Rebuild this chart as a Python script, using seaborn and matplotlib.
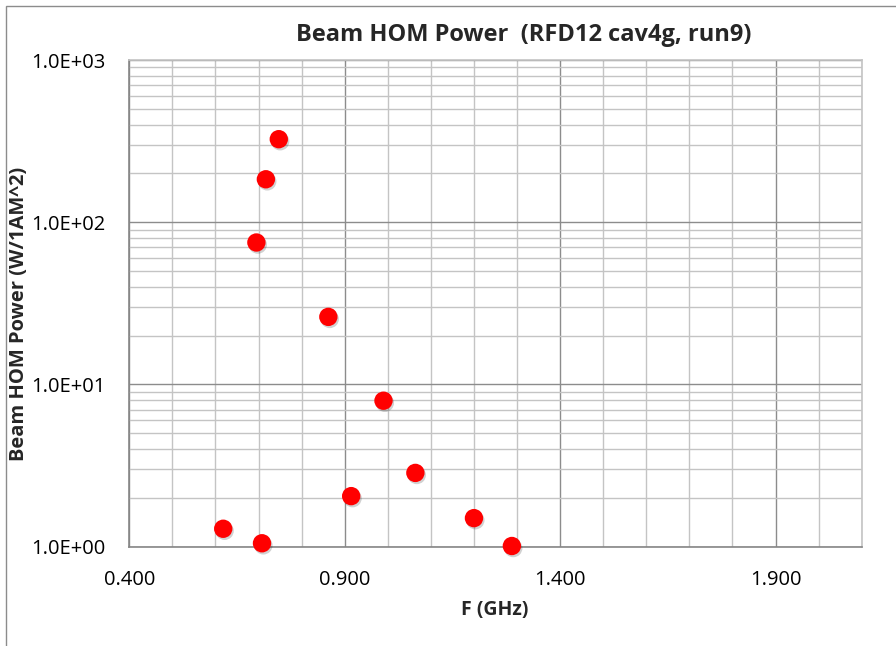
import matplotlib
matplotlib.use("Agg")
import matplotlib.pyplot as plt
import matplotlib.patheffects as pe
from matplotlib.ticker import LogLocator, MultipleLocator, FixedLocator, NullFormatter
import seaborn as sns
import pandas as pd

# Beam HOM power per mode frequency
freq_ghz = [0.618, 0.708, 0.695, 0.717, 0.747, 0.862, 0.915, 0.990, 1.064, 1.200, 1.288]
power_w = [1.29, 1.05, 75.0, 184.0, 325.0, 26.1, 2.05, 7.94, 2.85, 1.50, 1.01]

x_major_ticks = [0.4, 0.9, 1.4, 1.9]
x_tick_labels = ["0.400", "0.900", "1.400", "1.900"]
y_major_ticks = [1.0, 10.0, 100.0, 1000.0]
y_tick_labels = ["1.0E+00", "1.0E+01", "1.0E+02", "1.0E+03"]

title = "Beam HOM Power  (RFD12 cav4g, run9)"
xlabel = "F (GHz)"
ylabel = "Beam HOM Power (W/1AM^2)"

df = pd.DataFrame({"F": freq_ghz, "P": power_w})

sns.set_style("white")
plt.rcParams["font.family"] = ["Open Sans", "DejaVu Sans"]

fig = plt.figure(figsize=(8.96, 6.46), dpi=100)
ax = fig.add_axes([129.3 / 896, 1 - 546.7 / 646, (861.7 - 129.3) / 896, (546.7 - 60) / 646])

ax.set_yscale("log")
ax.set_xlim(0.4, 2.1)
ax.set_ylim(1.0, 1000.0)

# gridlines: light minor lines every 0.1 GHz and 2..9 per decade, darker majors
ax.xaxis.set_major_locator(FixedLocator(x_major_ticks))
ax.xaxis.set_minor_locator(MultipleLocator(0.1))
ax.yaxis.set_major_locator(FixedLocator(y_major_ticks))
ax.yaxis.set_minor_locator(LogLocator(base=10, subs=range(2, 10)))
ax.yaxis.set_minor_formatter(NullFormatter())
ax.set_xticks(x_major_ticks, x_tick_labels)
ax.set_yticks(y_major_ticks, y_tick_labels)

ax.grid(which="minor", color="#c4c4c4", linewidth=1.0)
ax.grid(which="major", color="#8c8c8c", linewidth=1.0)
ax.set_axisbelow(True)
ax.tick_params(which="both", length=0)
ax.tick_params(axis="x", pad=16.5, labelsize=14.5, colors="black")
ax.tick_params(axis="y", pad=17, labelsize=14.5, colors="black")

for side in ["top", "right"]:
    ax.spines[side].set_color("#c4c4c4")
for side in ["left", "bottom"]:
    ax.spines[side].set_color("#868686")
for sp in ax.spines.values():
    sp.set_linewidth(1.2)

sns.scatterplot(data=df, x="F", y="P", ax=ax, color="#ff0000", s=175,
                edgecolor="none", linewidth=0, zorder=5, clip_on=False)
for coll in ax.collections:
    coll.set_path_effects([pe.SimplePatchShadow(offset=(1, -1.5), shadow_rgbFace="#000000", alpha=0.18),
                           pe.Normal()])

ax.set_xlabel("")
ax.set_ylabel("")
fig.text(495 / 896, 1 - 610 / 646, xlabel, ha="center", va="center",
         fontsize=14, fontweight="bold")
fig.text(19 / 896, 1 - 314 / 646, ylabel, ha="center", va="center",
         rotation=90, fontsize=14.5, fontweight="bold")
fig.text(524 / 896, 1 - 35 / 646, title, ha="center", va="center",
         fontsize=17, fontweight="bold")

# outer chart frame
fig.patches.append(plt.Rectangle((6 / 896, -0.05), 1.1, 1 - 6 / 646 + 0.05,
                                 transform=fig.transFigure, fill=False,
                                 edgecolor="#8c8c8c", linewidth=1.0))

fig.savefig("out.png", dpi=100)
